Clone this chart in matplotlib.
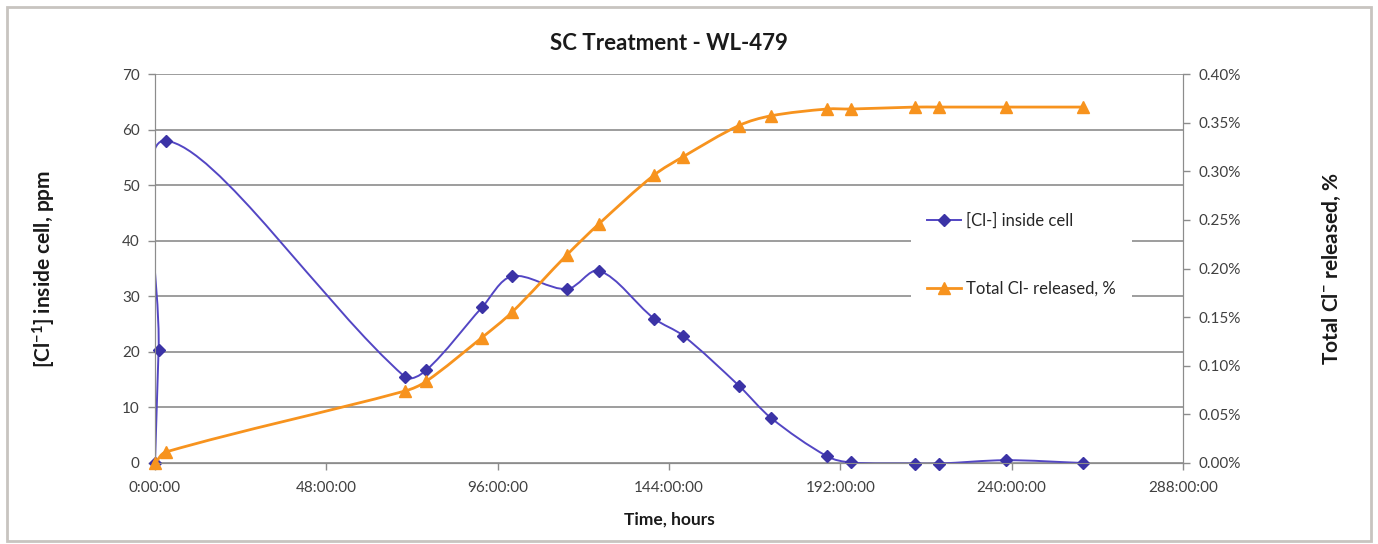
import numpy as np
import matplotlib
matplotlib.use('Agg')
import matplotlib.pyplot as plt
from matplotlib.path import Path
from matplotlib.patches import PathPatch, Rectangle
from matplotlib.lines import Line2D
from matplotlib.ticker import FuncFormatter

plt.rcParams['font.family'] = ['Lato', 'DejaVu Sans']
plt.rcParams['mathtext.fontset'] = 'custom'
plt.rcParams['mathtext.rm'] = 'Lato'
plt.rcParams['mathtext.bf'] = 'Lato:bold'
plt.rcParams['mathtext.default'] = 'regular'

# data (time in hours)
hours = [0, 1, 3, 70, 76, 91.6, 100, 115.4, 124.4, 139.8, 148, 163.6, 172.6,
         188.3, 195, 213, 219.6, 238.4, 260]
cl_inside = [0, 20.3, 58, 15.5, 16.7, 28, 33.6, 31.3, 34.6, 26, 22.9, 13.9, 8.1,
             1.2, 0.1, -0.1, -0.1, 0.5, 0]
hours_rel = [0, 3, 70, 76, 91.6, 100, 115.4, 124.4, 139.8, 148, 163.6, 172.6,
             188.3, 195, 213, 219.6, 238.4, 260]
cl_released = [0.0, 0.0113, 0.074, 0.084, 0.129, 0.155, 0.214, 0.246, 0.296,
               0.315, 0.347, 0.357, 0.364, 0.364, 0.366, 0.366, 0.366, 0.366]

xticks = [0, 48, 96, 144, 192, 240, 288]

blue = '#5346C4'
blue_mk = '#3B33A6'
orange = '#F7931E'
grid_c = '#8C8C8C'
text_c = '#404040'


def smooth_path(a, x, y):
    # smoothed line as cubic Bezier, tangents weighted by screen segment length
    p = np.column_stack([x, y]).astype(float)
    s = a.transData.transform(p)
    n = len(p)
    verts = [p[0]]
    codes = [Path.MOVETO]
    out_c, in_c = [], []
    for i in range(n):
        i0, i2 = max(i - 1, 0), min(i + 1, n - 1)
        t = p[i2] - p[i0]
        dp = np.hypot(*(s[i] - s[i0]))
        dn = np.hypot(*(s[i2] - s[i]))
        tot = dp + dn if dp + dn > 0 else 1
        out_c.append(p[i] + t * (dn / tot) / 3)
        in_c.append(p[i] - t * (dp / tot) / 3)
    for i in range(n - 1):
        verts += [out_c[i], in_c[i + 1], p[i + 1]]
        codes += [Path.CURVE4] * 3
    return Path(verts, codes)


fig = plt.figure(figsize=(13.78, 5.44), dpi=100)
fig.patches.append(Rectangle((0.005, 0.006), 0.99, 0.982, transform=fig.transFigure,
                             fill=False, edgecolor='#C8C4C0', linewidth=2))

ax = fig.add_axes([155 / 1378, 1 - 463 / 544, 1028 / 1378, 389 / 544])
ax2 = ax.twinx()

ax.set_xlim(0, 288)
ax.set_ylim(0, 70)
ax2.set_ylim(0, 0.40)

ax.set_yticks(range(0, 71, 10))
ax.set_xticks(xticks)
ax.xaxis.set_major_formatter(FuncFormatter(lambda v, pos: f'{int(v)}:00:00'))
ax2.set_yticks(np.arange(0, 0.401, 0.05))
ax2.yaxis.set_major_formatter(FuncFormatter(lambda v, pos: f'{v:.2f}%'))

ax.yaxis.grid(True, color=grid_c, linewidth=1.2)
ax.set_axisbelow(True)
for a in (ax, ax2):
    a.spines['top'].set_visible(False)
    a.spines['left'].set_color(grid_c)
    a.spines['right'].set_color(grid_c)
    a.spines['bottom'].set_color(grid_c)
    a.tick_params(colors=grid_c, labelcolor=text_c, labelsize=11, length=5, width=1)
ax.tick_params(axis='x', pad=8)
ax.tick_params(axis='y', pad=6)
ax2.tick_params(axis='y', pad=6)

# blue series
ax.add_patch(PathPatch(smooth_path(ax, hours, cl_inside), facecolor='none',
                       edgecolor=blue, linewidth=1.4, clip_on=True))
ax.plot(hours, cl_inside, linestyle='none', marker='D', markersize=6.5,
        color=blue_mk, clip_on=False, zorder=3)

# orange series
ax2.add_patch(PathPatch(smooth_path(ax2, hours_rel, cl_released), facecolor='none',
                        edgecolor=orange, linewidth=2.0, clip_on=True))
ax2.plot(hours_rel, cl_released, linestyle='none', marker='^', markersize=8.5,
         color=orange, clip_on=False, zorder=3)

ax.set_title('SC Treatment - WL-479', fontsize=16, fontweight='bold',
             color='#1a1a1a', pad=17)
ax.set_xlabel('Time, hours', fontsize=12.5, fontweight='bold', color='#1a1a1a',
              labelpad=12)
ax.set_ylabel('[Cl$^{-1}$] inside cell, ppm', fontsize=15, fontweight='bold',
              color='#1a1a1a', labelpad=46)
ax2.set_ylabel('Total Cl$^{-}$ released, %', fontsize=15, fontweight='bold',
               color='#1a1a1a', labelpad=58, rotation=90)

handles = [Line2D([], [], color=blue, marker='D', markersize=6, markerfacecolor=blue_mk,
                  markeredgecolor=blue_mk, linewidth=1.4),
           Line2D([], [], color=orange, marker='^', markersize=8, linewidth=2.0)]
leg = ax2.legend(handles, ['[Cl-] inside cell', 'Total Cl- released, %'],
                 loc='center left', bbox_to_anchor=(0.727, 0.535), frameon=True,
                 facecolor='white', edgecolor='none', framealpha=1, fancybox=False,
                 fontsize=12, labelspacing=3.1, handlelength=2.0, handletextpad=0.3,
                 borderpad=1.0, labelcolor='#262626')

fig.savefig('out.png', dpi=100)
